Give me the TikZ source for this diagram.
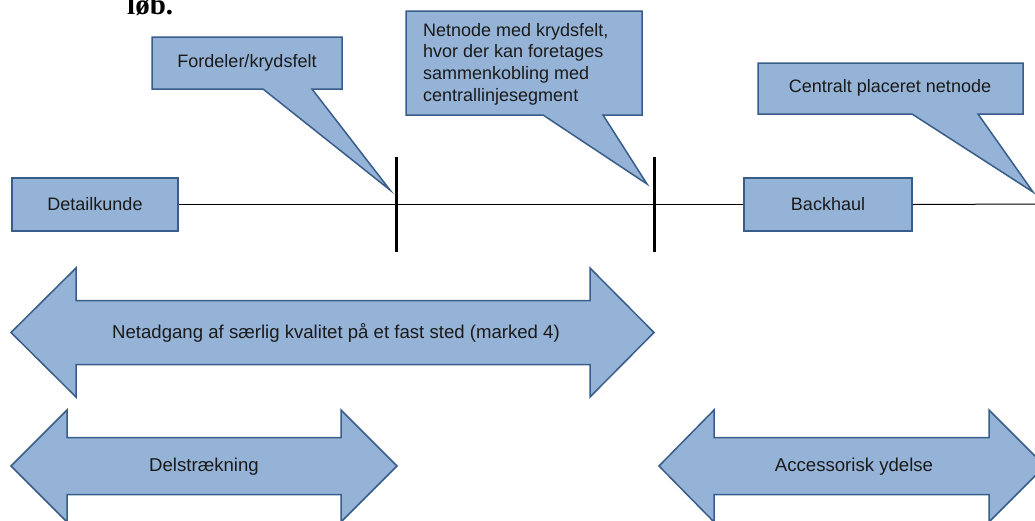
\documentclass[tikz,border=0pt]{standalone}
\usepackage{fontspec}
\setmainfont{Liberation Sans}
\newfontfamily\serifbold{Liberation Serif}
\usetikzlibrary{calc}
\definecolor{calfill}{HTML}{95B3D7}
\definecolor{caldraw}{HTML}{385D8A}
\definecolor{txt}{HTML}{1A1A1A}
\newcommand\dblarrowshape[7]{%
  \filldraw[shapestyle] ({#1},{#5}) -- ({#2},{#5-#6}) -- ({#2},{#5-#7}) -- ({#3},{#5-#7}) -- ({#3},{#5-#6}) -- ({#4},{#5}) -- ({#3},{#5+#6}) -- ({#3},{#5+#7}) -- ({#2},{#5+#7}) -- ({#2},{#5+#6}) -- cycle;}
\newcommand\calloutshape[8]{%
  \filldraw[shapestyle] ({#1},{#2}) -- ({#3},{#2}) -- ({#3},{#4}) -- ({#6},{#4}) -- ({#7},{#8}) -- ({#5},{#4}) -- ({#1},{#4}) -- cycle;}
\begin{document}
\begin{tikzpicture}[x=1pt,y=-1pt,
  shapestyle/.style={fill=calfill, draw=caldraw, line width=1.5pt, line join=miter},
  lbl/.style={text=txt, font=\fontsize{18}{21.7}\selectfont, inner sep=0pt},
  arrlbl/.style={lbl, font=\fontsize{18.6}{22}\selectfont},
  boxnode/.style={shapestyle, lbl, minimum height=53pt},
  barline/.style={line width=3pt, black},
  wire/.style={line width=1pt, black}]
\useasboundingbox (0,0) rectangle (1035,520);

% clipped heading fragment
\node[anchor=base west, inner sep=0pt, font=\serifbold\bfseries\fontsize{29}{32}\selectfont] (head) at (127,14) {løb.};

% callouts
\calloutshape{152}{37}{342}{89}{263}{312}{390}{190}
\node[lbl] (c1) at (247,63) {Fordeler/krydsfelt};
\calloutshape{406}{11}{642}{115}{543}{603}{647}{184}
\node[lbl, anchor=west, align=left] (c2) at (423,64) {Netnode med krydsfelt,\\hvor der kan foretages\\sammenkobling med\\centrallinjesegment};
\calloutshape{758}{63}{1023}{114}{912}{978}{1033}{192}
\node[lbl] (c3) at (890,88) {Centralt placeret netnode};

% line with boxes
\node[boxnode, minimum width=166pt] (det) at (95,204.5) {Detailkunde};
\node[boxnode, minimum width=168pt] (bh) at (828,204.5) {Backhaul};
\coordinate (lineend) at (1035,204);
\draw[wire] (det.east) -- (bh.west);
\draw[wire] (bh.east) -- (lineend);

% bars
\coordinate (b1t) at (396,157); \coordinate (b1b) at (396,252);
\coordinate (b2t) at (654,157); \coordinate (b2b) at (654,252);
\draw[barline] (b1t) -- (b1b);
\draw[barline] (b2t) -- (b2b);

% double arrows
\dblarrowshape{11}{76}{590}{654}{332.5}{64.5}{32}
\node[arrlbl] (a1) at (336,333) {Netadgang af særlig kvalitet på et fast sted (marked 4)};
\dblarrowshape{11}{67}{341}{397}{466}{56}{28.5}
\node[arrlbl] (a2) at (204,467) {Delstrækning};
\dblarrowshape{659}{714}{989}{1045}{466}{56}{28.5}
\node[arrlbl] (a3) at (854,467) {Accessorisk ydelse};
\end{tikzpicture}
\end{document}
